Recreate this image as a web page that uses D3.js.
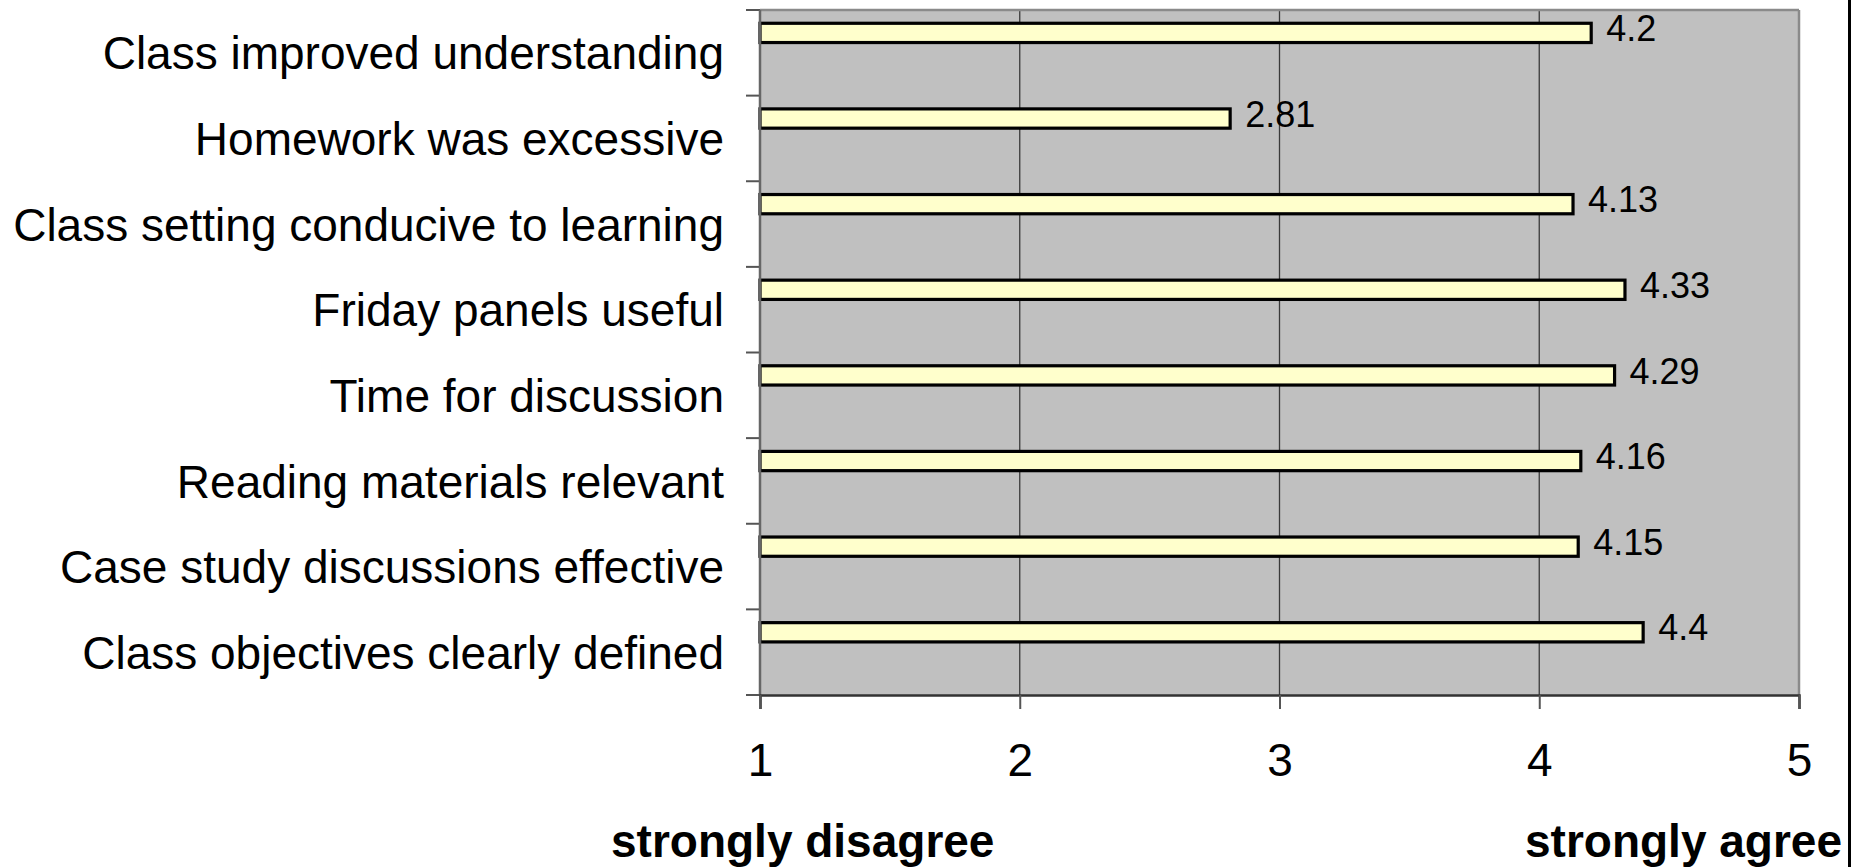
<!DOCTYPE html>
<html>
<head>
<meta charset="utf-8">
<script src="https://cdn.jsdelivr.net/npm/d3@7"></script>
<style>
  body { margin: 0; background: #fff; }
  svg { display: block; font-family: "Liberation Sans", Arial, sans-serif; }
</style>
</head>
<body>
<svg id="chart" width="1852" height="867"></svg>
<script>
// Survey items, top to bottom
var categories = [
  "Class improved understanding",
  "Homework was excessive",
  "Class setting conducive to learning",
  "Friday panels useful",
  "Time for discussion",
  "Reading materials relevant",
  "Case study discussions effective",
  "Class objectives clearly defined"
];

// Mean scores
var scores = [4.2, 2.81, 4.13, 4.33, 4.29, 4.16, 4.15, 4.4];

var xTicks = [1, 2, 3, 4, 5];
var scaleLabels = ["strongly disagree", "strongly agree"];

var svg = d3.select("#chart");

// Plot area (not "top": that name is taken by window.top)
var plotLeft = 760, plotRight = 1799, plotTop = 10, plotBottom = 695;

var x = d3.scaleLinear().domain([1, 5]).range([plotLeft, plotRight]);
var y = d3.scaleBand().domain(categories).range([plotTop, plotBottom]);
var bw = y.bandwidth();

// Grey plot background
svg.append("rect")
  .attr("x", plotLeft).attr("y", plotTop)
  .attr("width", plotRight - plotLeft).attr("height", plotBottom - plotTop)
  .attr("fill", "#c0c0c0");

// Vertical gridlines
svg.selectAll(".grid")
  .data(xTicks.slice(1, -1))
  .enter().append("line")
    .attr("class", "grid")
    .attr("x1", (d) => x(d)).attr("x2", (d) => x(d))
    .attr("y1", plotTop).attr("y2", plotBottom)
    .attr("stroke", "#3a3a3a")
    .attr("stroke-width", 1.3);

// Plot border
svg.append("line").attr("x1", plotLeft).attr("x2", plotRight).attr("y1", plotTop).attr("y2", plotTop)
  .attr("stroke", "#8a8a8a").attr("stroke-width", 2.5);
svg.append("line").attr("x1", plotRight).attr("x2", plotRight).attr("y1", plotTop).attr("y2", plotBottom)
  .attr("stroke", "#8a8a8a").attr("stroke-width", 2.5);

// Bars
var data = categories.map((c, i) => ({ name: c, value: scores[i] }));

svg.selectAll(".bar")
  .data(data)
  .enter().append("rect")
    .attr("class", "bar")
    .attr("x", x(1))
    .attr("y", (d) => y(d.name) + bw * 0.155)
    .attr("width", (d) => x(d.value) - x(1))
    .attr("height", bw * 0.225)
    .attr("fill", "#ffffcc")
    .attr("stroke", "#000")
    .attr("stroke-width", 3.2);

// Value labels
svg.selectAll(".val")
  .data(data)
  .enter().append("text")
    .attr("class", "val")
    .attr("x", (d) => x(d.value) + 15)
    .attr("y", (d) => y(d.name) + bw * 0.27 + 8)
    .attr("font-size", 36)
    .attr("fill", "#000")
    .text((d) => d.value);

// Left axis: labels at band centres, ticks between categories
var yAxis = svg.append("g")
  .attr("transform", "translate(" + plotLeft + ",0)")
  .call(d3.axisLeft(y).tickSize(0).tickPadding(36));
yAxis.select(".domain").remove();
yAxis.selectAll("text")
  .attr("font-size", 46)
  .attr("font-family", "Liberation Sans, Arial, sans-serif")
  .attr("dy", "0.36em")
  .attr("fill", "#000");

var bounds = categories.map((c) => y(c)).concat([plotBottom]);
svg.selectAll(".ytick")
  .data(bounds)
  .enter().append("line")
    .attr("class", "ytick")
    .attr("x1", plotLeft - 14).attr("x2", plotLeft)
    .attr("y1", (d) => d).attr("y2", (d) => d)
    .attr("stroke", "#555").attr("stroke-width", 2);

svg.append("line").attr("x1", plotLeft).attr("x2", plotLeft).attr("y1", plotTop).attr("y2", plotBottom)
  .attr("stroke", "#666").attr("stroke-width", 2.5);

// Bottom axis
var xAxis = svg.append("g")
  .attr("transform", "translate(0," + plotBottom + ")")
  .call(d3.axisBottom(x).tickValues(xTicks).tickSize(14).tickPadding(34).tickFormat(d3.format("d")));
xAxis.select(".domain")
  .attr("stroke", "#333").attr("stroke-width", 2.5);
xAxis.selectAll(".tick line").attr("stroke", "#555").attr("stroke-width", 2);
xAxis.selectAll("text")
  .attr("font-size", 46)
  .attr("font-family", "Liberation Sans, Arial, sans-serif")
  .attr("fill", "#000");

// Scale end captions
svg.append("text")
  .attr("x", 611).attr("y", 857)
  .attr("font-size", 46).attr("font-weight", "bold")
  .text(scaleLabels[0]);
svg.append("text")
  .attr("x", 1842).attr("y", 857)
  .attr("text-anchor", "end")
  .attr("font-size", 46).attr("font-weight", "bold")
  .text(scaleLabels[1]);

// Frame edge on the right
svg.append("line").attr("x1", 1849.5).attr("x2", 1849.5).attr("y1", 0).attr("y2", 867)
  .attr("stroke", "#000").attr("stroke-width", 3);
</script>
</body>
</html>
